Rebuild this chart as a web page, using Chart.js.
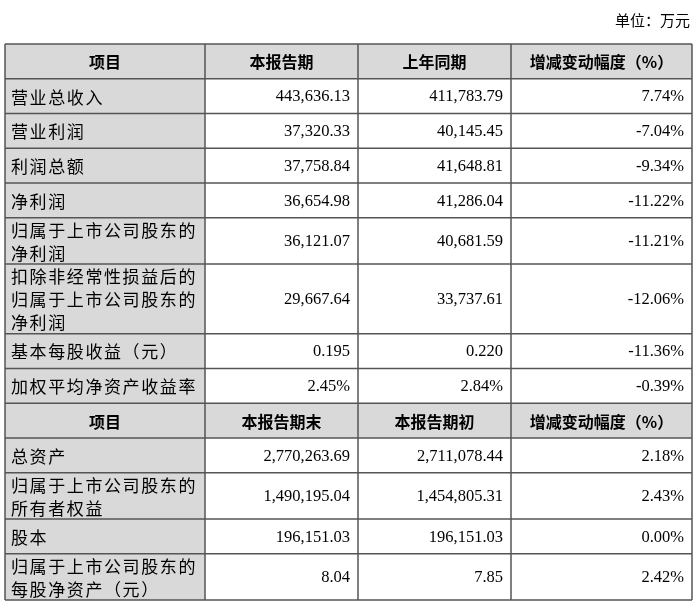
<!DOCTYPE html>
<html><head><meta charset="utf-8">
<script src="https://cdn.jsdelivr.net/npm/chart.js@4"></script>
<style>body{margin:0;background:#fff}#w{position:relative;width:700px;height:610px}</style>
</head><body><div id="w"><canvas id="c" width="700" height="610"></canvas></div>
<script>
const unitLabel = "单位：万元";
const headers1 = ["项目","本报告期","上年同期","增减变动幅度（%）"];
const headers2 = ["项目","本报告期末","本报告期初","增减变动幅度（%）"];
const items1 = [["营业总收入"],["营业利润"],["利润总额"],["净利润"],["归属于上市公司股东的","净利润"],["扣除非经常性损益后的","归属于上市公司股东的","净利润"],["基本每股收益（元）"],["加权平均净资产收益率"]];
const current1 = ["443,636.13","37,320.33","37,758.84","36,654.98","36,121.07","29,667.64","0.195","2.45%"];
const previous1 = ["411,783.79","40,145.45","41,648.81","41,286.04","40,681.59","33,737.61","0.220","2.84%"];
const change1 = ["7.74%","-7.04%","-9.34%","-11.22%","-11.21%","-12.06%","-11.36%","-0.39%"];
const items2 = [["总资产"],["归属于上市公司股东的","所有者权益"],["股本"],["归属于上市公司股东的","每股净资产（元）"]];
const current2 = ["2,770,263.69","1,490,195.04","196,151.03","8.04"];
const previous2 = ["2,711,078.44","1,454,805.31","196,151.03","7.85"];
const change2 = ["2.18%","2.43%","0.00%","2.42%"];

const colW = [200,153,153,181];
const rowUnit = n => n===1?1:(n===2?1.33:2);
const rows = [];
rows.push({h:true,cells:headers1,lines:1});
items1.forEach((it,i)=>rows.push({h:false,label:it,cells:[null,current1[i],previous1[i],change1[i]],lines:it.length}));
rows.push({h:true,cells:headers2,lines:1});
items2.forEach((it,i)=>rows.push({h:false,label:it,cells:[null,current2[i],previous2[i],change2[i]],lines:it.length}));
let acc=0; rows.forEach(r=>{r.y0=acc; acc+=rowUnit(r.lines); r.y1=acc;});
const totalY=acc;
const colB=[0]; colW.forEach(w=>colB.push(colB[colB.length-1]+w));
const totalX=colB[colB.length-1];

const CJK='"Noto Sans CJK SC"', SERIF='"Liberation Serif"';
const tablePlugin={id:'tbl',afterDraw(ch){
  const c=ch.ctx,x=ch.scales.x,y=ch.scales.y;
  c.save();
  c.fillStyle='#000';c.font='15px '+CJK;c.textAlign='right';c.textBaseline='middle';
  c.fillText(unitLabel,x.getPixelForValue(totalX)-2,20);
  rows.forEach(r=>{
    const top=y.getPixelForValue(r.y0),bot=y.getPixelForValue(r.y1),mid=(top+bot)/2;
    for(let j=0;j<4;j++){
      const l=x.getPixelForValue(colB[j]),rr=x.getPixelForValue(colB[j+1]);
      c.fillStyle=(r.h||j===0)?'#d9d9d9':'#ffffff';
      c.fillRect(l,top,rr-l,bot-top);
      c.fillStyle='#000';c.letterSpacing='0px';
      if(r.h){c.font='bold 16px '+CJK;c.textAlign='center';c.fillText(r.cells[j],(l+rr)/2,mid+1);}
      else if(j===0){c.font='17px '+CJK;c.letterSpacing='1.6px';c.textAlign='left';const n=r.label.length,lh=23;
        r.label.forEach((s,k)=>c.fillText(s,l+6,mid+(k-(n-1)/2)*lh+1));}
      else{c.font='16.5px '+SERIF;c.textAlign='right';c.fillText(r.cells[j],rr-8,mid+1);}
    }
  });
  c.letterSpacing='0px';
  c.strokeStyle='#555';c.lineWidth=1.5;
  rows.forEach(r=>{const t=y.getPixelForValue(r.y0);c.beginPath();c.moveTo(x.getPixelForValue(0),t);c.lineTo(x.getPixelForValue(totalX),t);c.stroke();});
  const b=y.getPixelForValue(totalY);c.beginPath();c.moveTo(x.getPixelForValue(0),b);c.lineTo(x.getPixelForValue(totalX),b);c.stroke();
  colB.forEach(v=>{const p=x.getPixelForValue(v);c.beginPath();c.moveTo(p,y.getPixelForValue(0));c.lineTo(p,b);c.stroke();});
  c.restore();
}};
new Chart(document.getElementById('c'),{type:'scatter',
  data:{datasets:[{data:[],pointRadius:0}]},
  options:{responsive:false,animation:false,events:[],
    layout:{padding:{left:5,right:8,top:44,bottom:10}},
    plugins:{legend:{display:false},tooltip:{enabled:false}},
    scales:{x:{type:'linear',min:0,max:totalX,display:false},y:{type:'linear',min:0,max:totalY,reverse:true,display:false}}},
  plugins:[tablePlugin]});
</script></body></html>
